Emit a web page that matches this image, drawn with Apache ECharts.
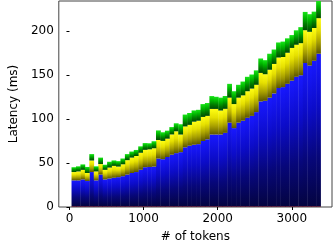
<!DOCTYPE html>
<html><head><meta charset="utf-8">
<script src="https://cdn.jsdelivr.net/npm/echarts@6/dist/echarts.min.js"></script>
<style>html,body{margin:0;padding:0;background:#fff}#c{width:333px;height:248px}</style>
</head><body><div id="c"></div>
<script>
const tokens = [60,120,180,240,300,360,420,480,540,600,660,720,780,840,900,960,1020,1080,1140,1200,1260,1320,1380,1440,1500,1560,1620,1680,1740,1800,1860,1920,1980,2040,2100,2160,2220,2280,2340,2400,2460,2520,2580,2640,2700,2760,2820,2880,2940,3000,3060,3120,3180,3240,3300,3360];
const embed = [0.8,0.8,0.8,0.8,0.8,0.8,0.8,0.8,0.8,0.8,0.8,0.8,0.8,0.8,0.8,0.8,0.8,0.8,0.8,0.8,0.8,0.8,0.8,0.8,0.8,0.8,0.8,0.8,0.8,0.8,0.8,0.8,0.8,0.8,0.8,0.8,0.8,0.8,0.8,0.8,0.8,0.8,0.8,0.8,0.8,0.8,0.8,0.8,0.8,0.8,0.8,0.8,0.8,0.8,0.8,0.8];
const blueLat = [29.4,29.4,30.5,28.7,38.9,29.4,36.0,30.5,31.6,32.4,33.1,34.2,36.0,37.8,38.9,41.5,44.4,44.7,45.1,54.2,53.5,56.0,58.6,60.4,61.5,67.0,68.8,69.9,70.6,74.2,76.1,81.5,81.5,81.5,83.4,95.0,88.8,95.0,97.2,100.5,102.7,107.0,119.1,119.8,123.4,128.2,134.4,135.4,139.1,142.7,147.1,148.9,162.8,159.9,165.3,173.3];
const yellowLat = [9.5,10.2,10.9,9.1,13.1,10.2,12.0,10.9,12.4,13.5,12.0,13.5,16.4,17.5,18.2,19.3,19.7,20.0,20.8,21.1,20.8,20.8,23.0,24.8,20.0,23.7,23.7,26.2,26.6,27.3,26.6,29.1,29.1,27.3,27.3,28.4,27.3,28.4,28.8,30.2,31.0,31.0,32.4,30.2,31.7,33.5,34.6,34.2,35.3,37.2,36.4,36.4,37.2,38.3,37.2,40.4];
const greenLat = [5.5,5.8,6.2,6.9,7.3,5.8,7.3,5.8,6.6,6.2,6.2,6.6,6.9,6.9,6.9,7.3,7.7,6.9,8.0,10.9,9.8,9.1,8.4,9.1,11.7,13.5,13.5,12.8,12.4,14.6,14.6,14.6,13.8,14.6,14.6,15.7,14.6,14.6,15.7,16.4,16.0,16.4,16.4,16.0,18.2,16.4,17.1,17.5,16.4,14.6,16.4,18.2,20.8,20.0,18.6,21.5];
const xTicks = [0,1000,2000,3000];
const yTicks = [0,50,100,150,200];

// data rows as [latency, tokens] so the latency column is the stacked one
function rows(vals){ return tokens.map((t,i)=>[vals[i], t]); }
function grad(stops){
  return new echarts.graphic.LinearGradient(0,0,0,1,stops.map((c,i)=>({offset:i/(stops.length-1), color:c})));
}
const chart = echarts.init(document.getElementById('c'), null, {renderer:'canvas'});
const font = 'DejaVu Sans';
const common = {type:'bar', stack:'lat', barWidth:4.8, animation:false, encode:{x:1, y:0}};
const plain = v => String(v);
chart.setOption({
  animation:false,
  grid:{left:43, right:1, top:1, bottom:33, show:true, borderColor:'#444', borderWidth:1},
  xAxis:{type:'value', min:-144, max:3542,
    name:'# of tokens', nameLocation:'middle', nameGap:24,
    nameTextStyle:{fontFamily:font, fontSize:12, color:'#000'},
    axisLine:{show:false}, splitLine:{show:false},
    axisTick:{show:true, length:3, customValues:xTicks, lineStyle:{color:'#000'}},
    axisLabel:{customValues:xTicks, formatter:plain, fontFamily:font, fontSize:12, color:'#000', margin:6}},
  yAxis:{type:'value', min:0, max:234,
    name:'Latency (ms)', nameLocation:'middle', nameGap:34,
    nameTextStyle:{fontFamily:font, fontSize:12, color:'#000'},
    axisLine:{show:false}, splitLine:{show:false},
    axisTick:{show:true, length:3, customValues:yTicks, lineStyle:{color:'#000'}},
    axisLabel:{customValues:yTicks, formatter:plain, fontFamily:font, fontSize:12, color:'#000', margin:5}},
  series:[
    Object.assign({}, common, {name:'embed', data:rows(embed), itemStyle:{color:'#7a0a1e'}}),
    Object.assign({}, common, {name:'attention', data:rows(blueLat), itemStyle:{color:grad(['#1818ff','#0c0cc8','#07077a','#040440'])}}),
    Object.assign({}, common, {name:'ffn', data:rows(yellowLat), itemStyle:{color:grad(['#ffff14','#e6e000','#a8a000','#5c5600'])}}),
    Object.assign({}, common, {name:'other', data:rows(greenLat), itemStyle:{color:grad(['#18e418','#00b800','#007a00','#004a00'])}})
  ]
});
</script></body></html>
